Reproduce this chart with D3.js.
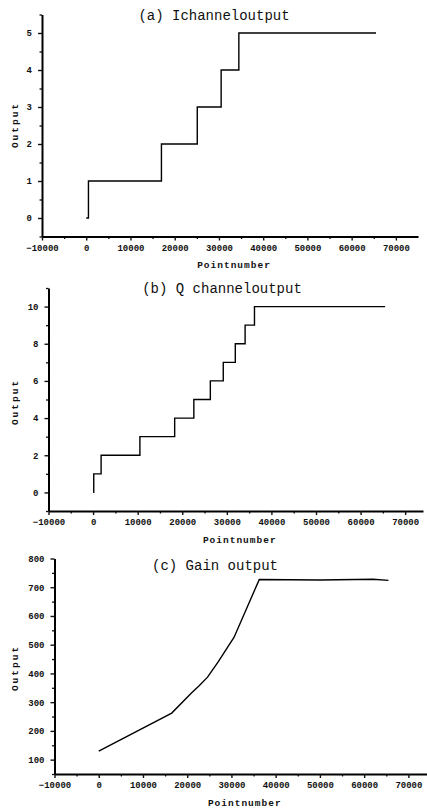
<!DOCTYPE html>
<html>
<head>
<meta charset="utf-8">
<script src="https://cdn.jsdelivr.net/npm/d3@7"></script>
<style>
  body { margin: 0; background: #fff; }
  svg { display: block; }
  .tick text { font-family: "Liberation Mono", monospace; font-weight: bold; font-size: 9px; fill: #111; }
  .title { font-family: "Liberation Mono", monospace; font-size: 14px; fill: #111; }
  .alabel { font-family: "Liberation Mono", monospace; font-weight: bold; font-size: 9.5px; fill: #111; letter-spacing: 1px; }
</style>
</head>
<body>
<div id="chart"></div>
<script>
// (a) I channel output - step breakpoints
const iX = [0, 500, 17000, 25100, 30500, 34500, 65500];
const iY = [0, 1, 2, 3, 4, 5, 5];

// (b) Q channel output - step breakpoints
const qX = [0, 150, 1800, 10500, 18300, 22600, 26300, 29200, 31900, 34100, 36200, 65500];
const qY = [0, 1, 2, 3, 4, 5, 6, 7, 8, 9, 10, 10];

// (c) Gain output
const gX = [0, 16500, 20900, 22700, 24600, 27000, 30600, 33600, 36300, 50000, 62000, 65500];
const gY = [130, 262, 331, 357, 387, 440, 526, 632, 727, 725, 728, 724];

const xTicks = [-10000, 0, 10000, 20000, 30000, 40000, 50000, 60000, 70000];

const panels = [
  {title: "(a) Ichanneloutput", xs: iX, ys: iY, step: true,
   left: 42, right: 418, top: 14.5, bottom: 236.5, xMax: 75000,
   yDom: [-0.5, 5.5], yTicks: [0, 1, 2, 3, 4, 5], yMinor: 0.5,
   titleX: 214, titleY: 20, xlabY: 268, ylabY: 125},
  {title: "(b) Q channeloutput", xs: qX, ys: qY, step: true,
   left: 48.5, right: 423, top: 288, bottom: 511, xMax: 74000,
   yDom: [-1, 11], yTicks: [0, 2, 4, 6, 8, 10], yMinor: 1,
   titleX: 222, titleY: 293, xlabY: 543, ylabY: 402},
  {title: "(c) Gain output", xs: gX, ys: gY, step: false,
   left: 54.5, right: 430.5, top: 558.5, bottom: 774, xMax: 75000,
   yDom: [50, 800], yTicks: [100, 200, 300, 400, 500, 600, 700, 800], yMinor: 50,
   titleX: 215, titleY: 570, xlabY: 806, ylabY: 668}
];

const svg = d3.select("#chart").append("svg")
  .attr("width", 427)
  .attr("height", 808);

panels.forEach(p => {
  const x = d3.scaleLinear().domain([-10000, p.xMax]).range([p.left, p.right]);
  const y = d3.scaleLinear().domain(p.yDom).range([p.bottom, p.top]);
  const g = svg.append("g");

  // minor ticks
  const xMinor = d3.range(-5000, p.xMax, 10000);
  g.append("g")
    .attr("transform", `translate(0,${p.bottom})`)
    .call(d3.axisBottom(x).tickValues(xMinor).tickSize(2.5).tickFormat(""))
    .call(a => a.select(".domain").remove())
    .selectAll("line").attr("stroke", "#111").attr("stroke-width", 1.3);

  const yMinorVals = d3.range(p.yDom[0], p.yDom[1] + 1e-9, p.yMinor)
    .filter(v => !p.yTicks.includes(+v.toFixed(6)));
  g.append("g")
    .attr("transform", `translate(${p.left},0)`)
    .call(d3.axisLeft(y).tickValues(yMinorVals).tickSize(2.5).tickFormat(""))
    .call(a => a.select(".domain").remove())
    .selectAll("line").attr("stroke", "#111").attr("stroke-width", 1.3);

  // x axis
  const xa = g.append("g")
    .attr("transform", `translate(0,${p.bottom})`)
    .call(d3.axisBottom(x).tickValues(xTicks).tickSize(4).tickSizeOuter(0).tickPadding(4).tickFormat(d3.format("d")));
  xa.select(".domain").attr("stroke", "#000").attr("stroke-width", 2);
  xa.selectAll(".tick line").attr("stroke", "#111").attr("stroke-width", 1.4);

  // y axis
  const ya = g.append("g")
    .attr("transform", `translate(${p.left},0)`)
    .call(d3.axisLeft(y).tickValues(p.yTicks).tickSize(4).tickSizeOuter(0).tickPadding(6).tickFormat(d3.format("d")));
  ya.select(".domain").attr("stroke", "#000").attr("stroke-width", 2);
  ya.selectAll(".tick line").attr("stroke", "#111").attr("stroke-width", 1.4);

  // data line
  const pts = p.xs.map((v, i) => [v, p.ys[i]]);
  const line = d3.line()
    .x(d => x(d[0]))
    .y(d => y(d[1]))
    .curve(p.step ? d3.curveStepAfter : d3.curveLinear);
  g.append("path")
    .datum(pts)
    .attr("fill", "none")
    .attr("stroke", "#000")
    .attr("stroke-width", 1.4)
    .attr("d", line);

  // title
  g.append("text")
    .attr("class", "title")
    .attr("x", p.titleX)
    .attr("y", p.titleY)
    .attr("text-anchor", "middle")
    .text(p.title);

  // axis labels
  g.append("text")
    .attr("class", "alabel")
    .attr("x", (p.left + Math.min(p.right, 427)) / 2 + 4)
    .attr("y", p.xlabY)
    .attr("text-anchor", "middle")
    .text("Pointnumber");

  g.append("text")
    .attr("class", "alabel")
    .attr("transform", `translate(18,${p.ylabY}) rotate(-90)`)
    .attr("text-anchor", "middle")
    .style("letter-spacing", "2px")
    .text("Output");
});
</script>
</body>
</html>
